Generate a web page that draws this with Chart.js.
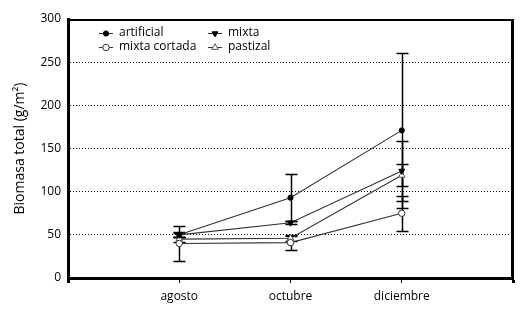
<!DOCTYPE html>
<html>
<head>
<meta charset="utf-8">
<script src="https://cdn.jsdelivr.net/npm/chart.js@4/dist/chart.umd.min.js"></script>
<style>
html,body{margin:0;padding:0;background:#fff;}
canvas{display:block;}
</style>
</head>
<body>
<canvas id="c" width="525" height="314"></canvas>
<script>
// ---- data ----
const categories = ['agosto', 'octubre', 'diciembre'];
const yTicks = [0, 50, 100, 150, 200, 250, 300];
const seriesNames = ['artificial', 'mixta', 'mixta cortada', 'pastizal'];
const artificial = [50, 93, 171];
const mixta = [50, 64, 124];
const mixtaCortada = [40, 41, 75];
const pastizal = [45, 46, 119];
const errArtificial = [3, 27, 90];
const errMixta = [2, 2, 35];
const errMixtaCortada = [20, 9, 20];
const errPastizal = [3, 3, 13];

const labels = [''].concat(categories, ['']);
const pad = a => [null].concat(a, [null]);

const FONT = '"Open Sans", "Liberation Sans", sans-serif';

const datasets = [
  { label: seriesNames[0], data: pad(artificial), err: pad(errArtificial),
    pointStyle: 'circle', pointRadius: 2.6, pointBackgroundColor: '#000', pointBorderColor: '#000', rotation: 0 },
  { label: seriesNames[1], data: pad(mixta), err: pad(errMixta),
    pointStyle: 'triangle', pointRadius: 3.4, pointBackgroundColor: '#000', pointBorderColor: '#000', rotation: 180 },
  { label: seriesNames[2], data: pad(mixtaCortada), err: pad(errMixtaCortada),
    pointStyle: 'circle', pointRadius: 3.2, pointBackgroundColor: '#fff', pointBorderColor: '#333', rotation: 0 },
  { label: seriesNames[3], data: pad(pastizal), err: pad(errPastizal),
    pointStyle: 'triangle', pointRadius: 3.8, pointBackgroundColor: '#fff', pointBorderColor: '#555', rotation: 0 }
].map(d => Object.assign({
  borderColor: '#333', borderWidth: 1.1, pointBorderWidth: 1, tension: 0, fill: false, spanGaps: false
}, d));

const errorBars = {
  id: 'errorBars',
  beforeDatasetsDraw(chart) {
    const ctx = chart.ctx;
    const xs = chart.scales.x, ys = chart.scales.y;
    ctx.save();
    ctx.strokeStyle = '#000';
    chart.data.datasets.forEach(ds => {
      ds.data.forEach((v, i) => {
        if (v == null || ds.err[i] == null) return;
        const x = Math.round(xs.getPixelForValue(i)) + 0.5;
        const yt = Math.round(ys.getPixelForValue(v + ds.err[i])) + 0.5;
        const yb = Math.round(ys.getPixelForValue(v - ds.err[i])) + 0.5;
        ctx.lineWidth = 1.5;
        ctx.beginPath(); ctx.moveTo(x, yt); ctx.lineTo(x, yb); ctx.stroke();
        ctx.lineWidth = 1.3;
        ctx.beginPath();
        ctx.moveTo(x - 6, yt); ctx.lineTo(x + 6, yt);
        ctx.moveTo(x - 6, yb); ctx.lineTo(x + 6, yb);
        ctx.stroke();
      });
    });
    ctx.restore();
  }
};

const frame = {
  id: 'frame',
  afterDraw(chart) {
    const ctx = chart.ctx, a = chart.chartArea;
    ctx.save();
    ctx.strokeStyle = '#000';
    ctx.lineWidth = 2;
    ctx.beginPath(); ctx.moveTo(a.left, a.top + 1); ctx.lineTo(a.right, a.top + 1); ctx.stroke();
    ctx.lineWidth = 3;
    ctx.beginPath(); ctx.moveTo(a.right - 0.5, a.top); ctx.lineTo(a.right - 0.5, a.bottom); ctx.stroke();
    ctx.restore();
  }
};

const legendBox = {
  id: 'legendBox',
  afterDraw(chart) {
    const ctx = chart.ctx;
    const pos = [[106, 33], [215, 33], [106, 47], [215, 47]];
    ctx.save();
    ctx.font = '12px ' + FONT;
    ctx.textBaseline = 'middle';
    ctx.fillStyle = '#000';
    chart.data.datasets.forEach((ds, k) => {
      const [x, y] = pos[k];
      ctx.strokeStyle = '#333'; ctx.lineWidth = 1;
      ctx.beginPath(); ctx.moveTo(x - 7, y + 0.5); ctx.lineTo(x + 7, y + 0.5); ctx.stroke();
      ctx.fillStyle = ds.pointBackgroundColor; ctx.strokeStyle = ds.pointBorderColor;
      ctx.lineWidth = 1;
      Chart.helpers.drawPoint(ctx, { pointStyle: ds.pointStyle, rotation: ds.rotation, radius: ds.pointRadius, borderWidth: 1 }, x, y + 0.5);
      ctx.fillStyle = '#000';
      ctx.fillText(ds.label, x + 13, y);
    });
    ctx.restore();
  }
};

new Chart(document.getElementById('c'), {
  type: 'line',
  data: { labels, datasets },
  options: {
    responsive: false,
    devicePixelRatio: 1,
    animation: false,
    layout: { padding: { left: 0, right: 12, top: 19, bottom: 0 } },
    plugins: { legend: { display: false }, tooltip: { enabled: false } },
    scales: {
      x: {
        type: 'category',
        offset: false,
        grid: {
          display: true, drawOnChartArea: false, drawTicks: true, tickLength: 5,
          tickColor: '#000',
          tickWidth: c => (c.index === 0 || c.index === labels.length - 1) ? 3 : 1
        },
        border: { display: true, color: '#000', width: 3 },
        ticks: { color: '#000', font: { family: FONT, size: 12 }, padding: 6, maxRotation: 0, autoSkip: false },
        afterFit: s => { s.height = 36; }
      },
      y: {
        min: 0, max: 300,
        afterBuildTicks: s => { s.ticks = yTicks.map(v => ({ value: v })); },
        grid: {
          drawTicks: false,
          color: c => (c.tick && c.tick.value > 0 && c.tick.value < 300) ? '#000' : 'rgba(0,0,0,0)',
          lineWidth: 1
        },
        border: { display: true, color: '#000', width: 3, dash: [1, 2] },
        ticks: { color: '#000', font: { family: FONT, size: 12 }, padding: 7 },
        title: { display: true, text: 'Biomasa total (g/m²)', color: '#000', font: { family: FONT, size: 14 }, padding: { top: 12, bottom: 0 } },
        afterFit: s => { s.width = 68; }
      }
    }
  },
  plugins: [errorBars, frame, legendBox]
});
</script>
</body>
</html>
